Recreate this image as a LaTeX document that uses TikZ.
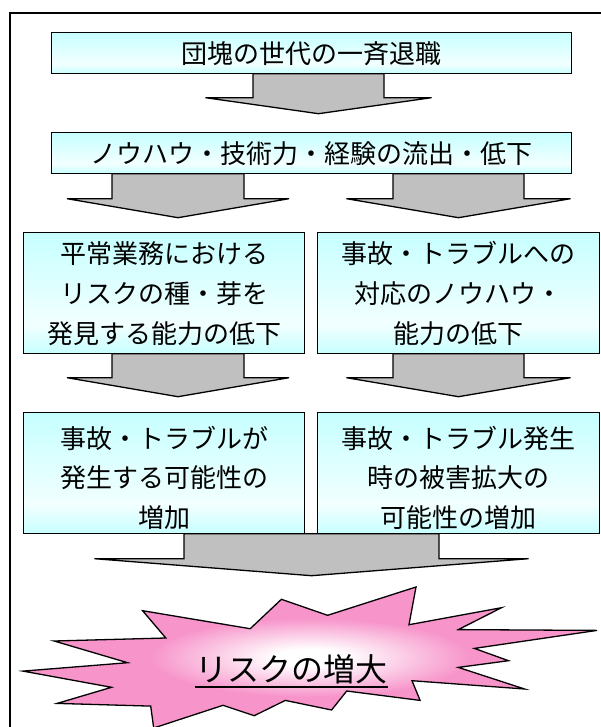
\documentclass[tikz,border=0pt]{standalone}
\usepackage{fontspec}
\newfontfamily\jp{Noto Sans CJK JP}
\usetikzlibrary{calc}
\definecolor{boxcyan}{RGB}{198,255,255}
\definecolor{boxwhite}{RGB}{242,255,255}
\definecolor{arrgray}{RGB}{192,192,192}
\definecolor{sealpink}{RGB}{247,148,202}
\pgfdeclareverticalshading{boxshade}{100bp}{color(0bp)=(boxcyan); color(25bp)=(boxcyan); color(37bp)=(boxwhite); color(75bp)=(boxcyan); color(100bp)=(boxcyan)}
\pgfdeclareradialshading{sealshade}{\pgfpoint{0bp}{0bp}}{color(0bp)=(white); color(3bp)=(white); color(14bp)=(sealpink); color(50bp)=(sealpink)}
\newcommand\blockarr[6]{%
  \draw[barrow] let \p1=(#1.south) in
    (#2-#3,\y1) -- (#2-#3,\y1-#5) -- (#2-#4,\y1-#5) -- (#2,\y1-#5-#6)
    -- (#2+#4,\y1-#5) -- (#2+#3,\y1-#5) -- (#2+#3,\y1) -- cycle;}
\tikzset{
  box/.style={draw=black, line width=1.4pt, shading=boxshade, inner sep=0pt},
  barrow/.style={draw=black, line width=1.3pt, fill=arrgray, line join=miter},
  jt/.style={font=\jp\fontsize{26pt}{30pt}\selectfont, inner sep=0pt, text height=22.9pt, text depth=3.1pt, anchor=center},
  jbig/.style={font=\jp\fontsize{32pt}{36pt}\selectfont, inner sep=0pt, text height=28.2pt, text depth=3.8pt, anchor=center},
}
\begin{document}
\begin{tikzpicture}[x=1pt,y=1pt]
\useasboundingbox (0,0) rectangle (601,-727);
\clip (0,0) rectangle (601,-727);
\fill[white] (0,0) rectangle (601,-727);
% outer frame (cut off at right and bottom)
\draw[line width=1.2pt] (10,-13) rectangle (640,-780);
% boxes (nodes used for arrow anchors)
\node[box, minimum width=519pt, minimum height=40pt] (b1) at (311.5,-53) {};
\node[box, minimum width=519pt, minimum height=40pt] (b2) at (311.5,-153) {};
\node[box, minimum width=280pt, minimum height=120pt] (b3l) at (164,-293) {};
\node[box, minimum width=281pt, minimum height=120pt] (b3r) at (458.5,-293) {};
\node[box, minimum width=280pt, minimum height=120pt] (b4l) at (164,-473) {};
\node[box, minimum width=281pt, minimum height=120pt] (b4r) at (458.5,-473) {};
% block arrows
\blockarr{b1}{318.5}{65.5}{113}{24}{16}
\blockarr{b2}{178}{66}{111}{25}{19}
\blockarr{b2}{458.5}{65.5}{112}{25}{19}
\blockarr{b3l}{178}{66}{111}{24}{19}
\blockarr{b3r}{458.5}{65.5}{112}{24}{19}
\blockarr{b4l}{311.5}{127.5}{217}{25}{17}
% redraw boxes on top of arrow shafts
\draw[box] (b1.south west) rectangle (b1.north east);
\draw[box] (b2.south west) rectangle (b2.north east);
\draw[box] (b3l.south west) rectangle (b3l.north east);
\draw[box] (b3r.south west) rectangle (b3r.north east);
\draw[box] (b4l.south west) rectangle (b4l.north east);
\draw[box] (b4r.south west) rectangle (b4r.north east);
% texts
\node[jt] (t1) at (311.5,-54) {団塊の世代の一斉退職};
\node[jt] (t2) at (311.5,-154) {ノウハウ・技術力・経験の流出・低下};
\node[jt] (t3a) at (164,-254) {平常業務における};
\node[jt] (t3b) at (164,-294) {リスクの種・芽を};
\node[jt] (t3c) at (164,-334) {発見する能力の低下};
\node[jt] (t3d) at (458.5,-254) {事故・トラブルへの};
\node[jt] (t3e) at (458.5,-294) {対応のノウハウ・};
\node[jt] (t3f) at (458.5,-334) {能力の低下};
\node[jt] (t4a) at (164,-439) {事故・トラブルが};
\node[jt] (t4b) at (164,-478) {発生する可能性の};
\node[jt] (t4c) at (164,-518) {増加};
\node[jt] (t4d) at (458.5,-439) {事故・トラブル発生};
\node[jt] (t4e) at (458.5,-478) {時の被害拡大の};
\node[jt] (t4f) at (458.5,-518) {可能性の増加};
% explosion shape
\path[draw=black, line width=1.3pt, shading=sealshade, line join=miter]
 (327.6,-615.3) -- (416.0,-587.0) -- (409.0,-624.7) -- (501.5,-607.7)
 -- (458.3,-629.6) -- (597.0,-630.4) -- (474.4,-648.4) -- (508.5,-660.7)
 -- (458.3,-667.4) -- (524.6,-689.0) -- (412.0,-680.7) -- (420.1,-700.4)
 -- (346.7,-691.0) -- (331.6,-710.0) -- (285.3,-700.4) -- (254.2,-715.7)
 -- (223.0,-705.3) -- (153.7,-728.0) -- (150.7,-706.1) -- (57.1,-703.4)
 -- (111.5,-687.3) -- (23.0,-671.1) -- (127.6,-662.7) -- (54.1,-641.0)
 -- (165.8,-638.0) -- (142.6,-610.7) -- (250.2,-628.7) -- (281.4,-599.3) -- cycle;
\node[jbig] (risk) at (291.5,-669) {リスクの増大};
\draw[line width=1.4pt] ($(risk.center)+(-96.5,-18)$) -- ($(risk.center)+(96.5,-18)$);
\end{tikzpicture}
\end{document}
